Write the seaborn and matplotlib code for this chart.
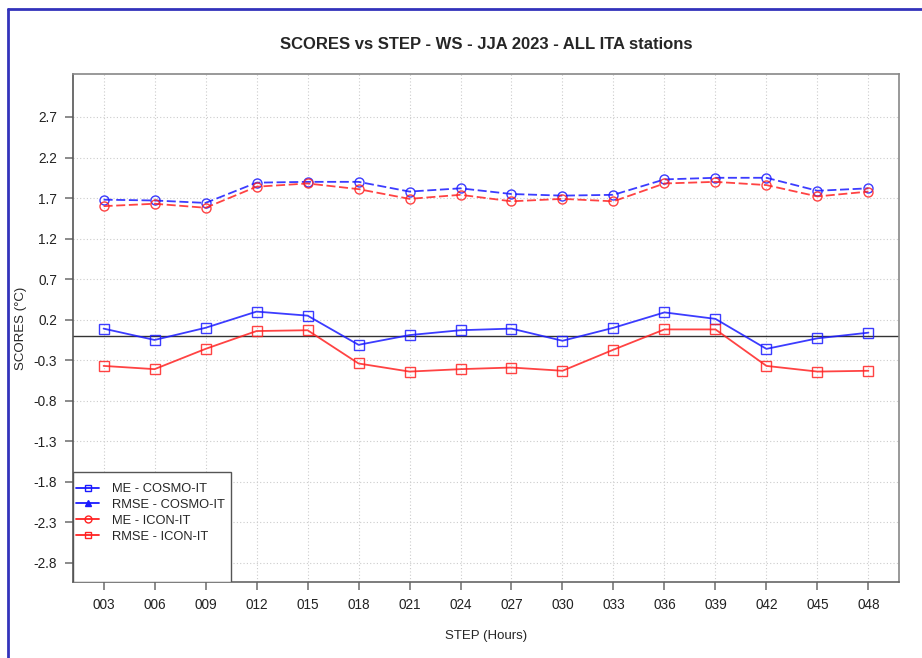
import numpy as np
import pandas as pd
import matplotlib
matplotlib.use("Agg")
import matplotlib.pyplot as plt
import seaborn as sns
from matplotlib.lines import Line2D
from matplotlib.patches import Rectangle

## Data
steps = ["003", "006", "009", "012", "015", "018", "021", "024",
         "027", "030", "033", "036", "039", "042", "045", "048"]
me_cosmo = [0.09, -0.05, 0.10, 0.30, 0.25, -0.11, 0.01, 0.07,
            0.09, -0.06, 0.10, 0.29, 0.21, -0.16, -0.03, 0.04]
me_icon = [-0.37, -0.41, -0.16, 0.06, 0.07, -0.34, -0.44, -0.41,
           -0.39, -0.43, -0.17, 0.08, 0.08, -0.37, -0.44, -0.43]
rmse_cosmo = [1.68, 1.67, 1.64, 1.89, 1.90, 1.90, 1.78, 1.82,
              1.75, 1.73, 1.74, 1.93, 1.95, 1.95, 1.79, 1.82]
rmse_icon = [1.60, 1.63, 1.58, 1.84, 1.88, 1.81, 1.69, 1.74,
             1.66, 1.69, 1.66, 1.88, 1.90, 1.86, 1.72, 1.78]
yticks = [2.7, 2.2, 1.7, 1.2, 0.7, 0.2, -0.3, -0.8, -1.3, -1.8, -2.3, -2.8]

df = pd.DataFrame({"pos": np.arange(len(steps)), "step": steps,
                   "me_cosmo": me_cosmo, "me_icon": me_icon,
                   "rmse_cosmo": rmse_cosmo, "rmse_icon": rmse_icon})

sns.set_style("white")
plt.rcParams['font.family'] = ['Liberation Sans', 'DejaVu Sans']

blue = "#1a1aff"
red = "#ff2222"

fig = plt.figure(figsize=(9.22, 6.58), dpi=100)
ax = fig.add_axes([73/922, 1-582/658, (899-73)/922, (582-74)/658])

# grid
for v in yticks:
    ax.axhline(v, color="#cccccc", lw=0.8, ls=(0, (1, 2)), zorder=0)
for p in df["pos"]:
    ax.axvline(p, color="#cccccc", lw=0.8, ls=(0, (1, 2)), zorder=0)
ax.axhline(0, color="#333333", lw=1.0, zorder=1)

series = [("rmse_cosmo", blue, (0, (5, 2)), "o"),
          ("rmse_icon", red, (0, (5, 2)), "o"),
          ("me_cosmo", blue, "-", "s"),
          ("me_icon", red, "-", "s")]
for col, c, ls, m in series:
    sns.lineplot(data=df, x="pos", y=col, ax=ax, color=c, lw=1.3,
                 linestyle=ls, marker=m, markersize=6.5, markerfacecolor="none",
                 markeredgecolor=c, markeredgewidth=1.0, alpha=0.85)

ax.set_xlim(-0.6, 15.6)
ax.set_ylim(-3.035, 3.23)
ax.set_xticks(df["pos"])
ax.set_xticklabels(steps, fontsize=9.8, color="#222222")
ax.set_yticks(yticks)
ax.set_yticklabels([f"{v:.1f}" for v in yticks], fontsize=9.8, color="#222222")
ax.tick_params(axis="both", direction="out", length=5.5, width=1.2,
               color="#777777", bottom=True, left=True)
ax.tick_params(axis="x", pad=6)
ax.tick_params(axis="y", pad=6)
for s in ax.spines.values():
    s.set_color("#888888")
    s.set_linewidth(1.2)
ax.spines["left"].set_color("#555555")
ax.spines["bottom"].set_color("#666666")
ax.set_xlabel("STEP (Hours)", fontsize=9.5, labelpad=13)
ax.set_ylabel("SCORES (°C)", fontsize=9.5)
ax.yaxis.set_label_coords((27-73)/826, 0.5)
ax.set_title("SCORES vs STEP - WS - JJA 2023 - ALL ITA stations",
             fontsize=12, fontweight="bold", pad=18)

# legend box (as in the reference, taller than its entries)
ax.add_patch(Rectangle((0, 0), 158/826, 110/508, transform=ax.transAxes,
                       facecolor="white", edgecolor="#555555", lw=1.0, zorder=5))
handles = [Line2D([], [], color=blue, marker="s", mfc="none", ms=5, lw=1.3),
           Line2D([], [], color=blue, marker="^", ms=5, lw=1.3),
           Line2D([], [], color=red, marker="o", mfc="none", ms=5, lw=1.3),
           Line2D([], [], color=red, marker="s", mfc="none", ms=5, lw=1.3)]
labels = ["ME - COSMO-IT", "RMSE - COSMO-IT", "ME - ICON-IT", "RMSE - ICON-IT"]
leg = ax.legend(handles, labels, loc="upper left",
                bbox_to_anchor=(3/826, 99/508), fontsize=9.3, frameon=False,
                borderaxespad=0, handlelength=1.8, handletextpad=0.95,
                labelspacing=0.3, borderpad=0)
leg.set_zorder(6)

# outer blue border
fig.add_artist(Line2D([8/922, 1], [1-9/658, 1-9/658], color="#3333bb", lw=2))
fig.add_artist(Line2D([8/922, 8/922], [0, 1-9/658], color="#3333bb", lw=2))

plt.savefig("out.png", dpi=100)
